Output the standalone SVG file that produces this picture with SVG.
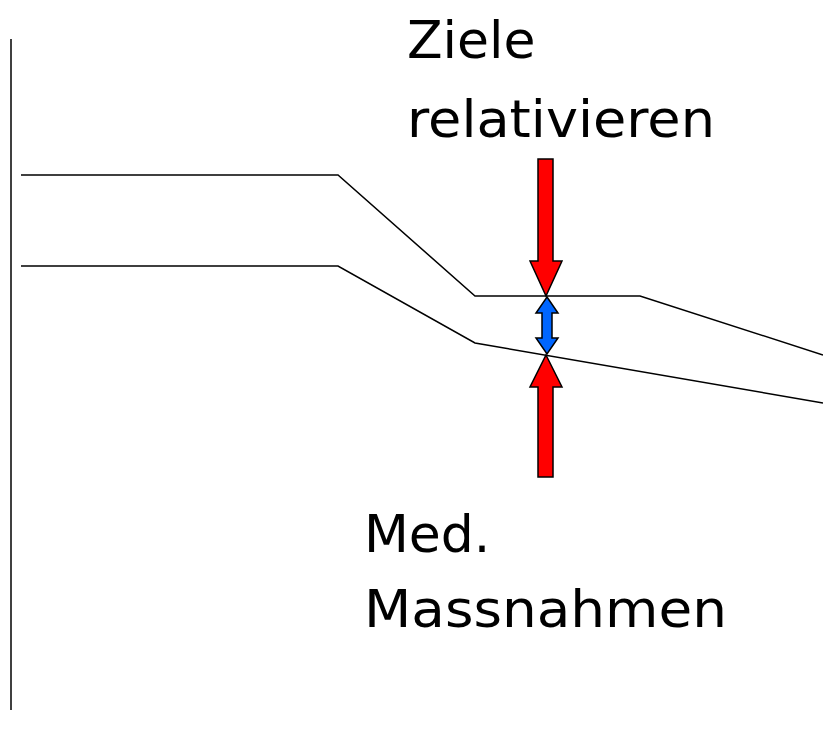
<svg xmlns="http://www.w3.org/2000/svg" width="823" height="733" viewBox="0 0 823 733">
<style>
.ln{fill:none;stroke:#000;stroke-width:1.5}
.red{fill:#ff0000;stroke:#000;stroke-width:1.5;stroke-linejoin:miter}
.blue{fill:#0066ff;stroke:#000;stroke-width:1.5}
.t{font-family:"DejaVu Sans","Liberation Sans",sans-serif;font-size:52px;fill:#000}
</style>
<rect width="823" height="733" fill="#fff"/>
<g id="connectors">
<line class="ln" x1="11" y1="39" x2="11" y2="710"/>
<polyline class="ln" points="21,175 338,175 475,296 640,296 823,355"/>
<polyline class="ln" points="21,266 338,266 475,343 823,403"/>
</g>
<g id="arrow-down">
<polygon class="red" points="538,159 553,159 553,261 562,261 546,296 530,261 538,261"/>
</g>
<g id="arrow-double">
<polygon class="blue" points="547,297 558,313 552,313 552,338 558,338 547,354 536,338 542,338 542,313 536,313"/>
</g>
<g id="arrow-up">
<polygon class="red" points="546,355 562,387 553,387 553,477 538,477 538,387 530,387"/>
</g>
<g id="label-top">
<text class="t" x="407" y="58">Ziele</text>
<text class="t" x="407" y="137" textLength="308" lengthAdjust="spacingAndGlyphs">relativieren</text>
</g>
<g id="label-bottom">
<text class="t" x="364" y="552">Med.</text>
<text class="t" x="364" y="627" textLength="363" lengthAdjust="spacingAndGlyphs">Massnahmen</text>
</g>
</svg>
